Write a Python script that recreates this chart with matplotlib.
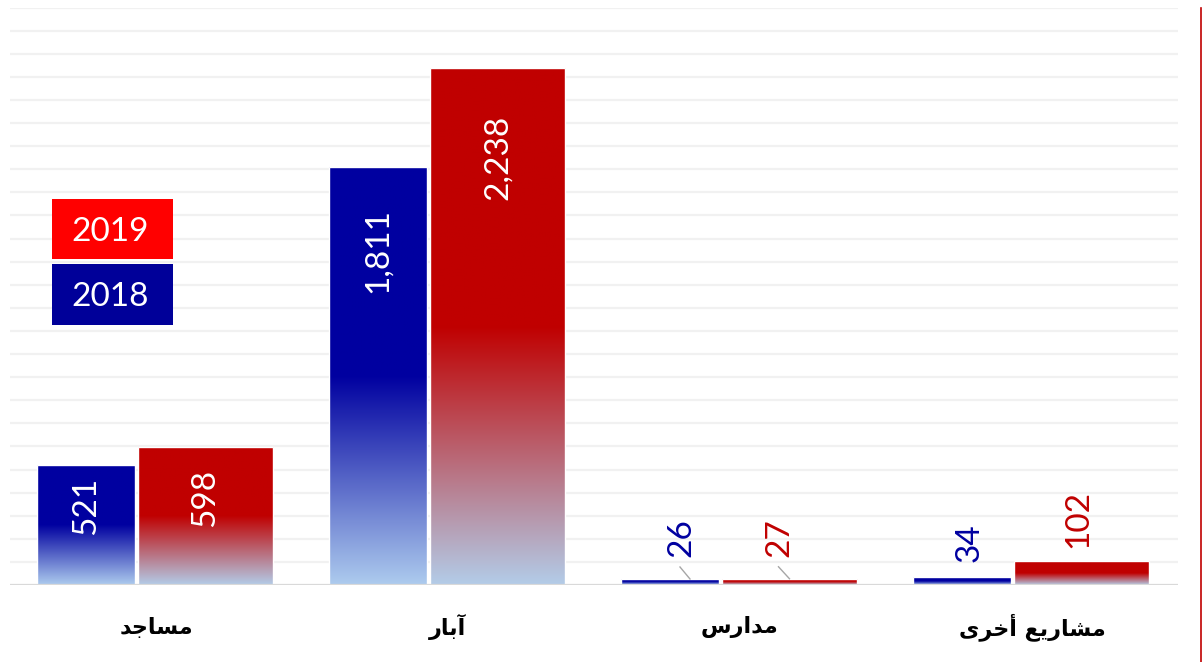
import numpy as np
import matplotlib
matplotlib.use("Agg")
import matplotlib.pyplot as plt
from matplotlib.patches import Rectangle
from matplotlib.lines import Line2D
from matplotlib.colors import to_rgb
from matplotlib.transforms import offset_copy

# ---------------- data ----------------
categories = ["مساجد", "آبار", "مدارس", "مشاريع أخرى"]
series_names = ["2018", "2019"]
values_2018 = [521, 1811, 26, 34]
values_2019 = [598, 2238, 27, 102]
value_labels_2018 = ["521", "1,811", "26", "34"]
value_labels_2019 = ["598", "2,238", "27", "102"]

# ---------------- minimal Arabic shaping (presentation forms, visual order) ----------------
FORMS = {  # char: (isolated, final, initial, medial)
    "\u0627": ("\uFE8D", "\uFE8E", None, None),
    "\u0622": ("\uFE81", "\uFE82", None, None),
    "\u0623": ("\uFE83", "\uFE84", None, None),
    "\u0628": ("\uFE8F", "\uFE90", "\uFE91", "\uFE92"),
    "\u062C": ("\uFE9D", "\uFE9E", "\uFE9F", "\uFEA0"),
    "\u062E": ("\uFEA5", "\uFEA6", "\uFEA7", "\uFEA8"),
    "\u062F": ("\uFEA9", "\uFEAA", None, None),
    "\u0631": ("\uFEAD", "\uFEAE", None, None),
    "\u0633": ("\uFEB1", "\uFEB2", "\uFEB3", "\uFEB4"),
    "\u0634": ("\uFEB5", "\uFEB6", "\uFEB7", "\uFEB8"),
    "\u0639": ("\uFEC9", "\uFECA", "\uFECB", "\uFECC"),
    "\u0645": ("\uFEE1", "\uFEE2", "\uFEE3", "\uFEE4"),
    "\u064A": ("\uFEF1", "\uFEF2", "\uFEF3", "\uFEF4"),
    "\u0649": ("\uFEEF", "\uFEF0", None, None),
}


def shape_arabic(s):
    out = []
    n = len(s)
    for i, ch in enumerate(s):
        f = FORMS.get(ch)
        if f is None:
            out.append(ch)
            continue
        prev = s[i - 1] if i > 0 else None
        nxt = s[i + 1] if i < n - 1 else None
        join_prev = prev in FORMS and FORMS[prev][2] is not None
        join_next = nxt in FORMS and f[2] is not None
        if join_prev and join_next:
            out.append(f[3])
        elif join_prev:
            out.append(f[1])
        elif join_next:
            out.append(f[2])
        else:
            out.append(f[0])
    return "".join(out)[::-1]


# ---------------- figure ----------------
W, H = 1203, 662
fig = plt.figure(figsize=(W / 100, H / 100), dpi=100)
fig.patch.set_facecolor("white")
ax = fig.add_axes([10 / W, 1 - 585 / H, 1168 / W, 577.5 / H])
ax.set_xlim(-0.5, 3.5)
ax.set_ylim(0, 2500)
for s in ax.spines.values():
    s.set_visible(False)
ax.set_xticks([])
ax.set_yticks([])

# grid
for gy in range(100, 2501, 100):
    ax.axhline(gy, color="#F1F1F1", lw=1.6, zorder=0)
ax.axhline(0, color="#D9D9D9", lw=1.6, zorder=3)

x = np.arange(len(categories))
blue_top, blue_bot = "#0000A0", "#ADCBEE"
red_top, red_bot = "#C00000", "#B3CCE8"

bars_b = ax.bar(x - 0.4075, values_2018, width=0.3355, align="edge",
                color="none", edgecolor="white", linewidth=1.0, zorder=2)
bars_r = ax.bar(x - 0.062, values_2019, width=0.463, align="edge",
                color="none", edgecolor="white", linewidth=1.0, zorder=2)


def gradient_fill(bar, top, bot):
    x0, y0 = bar.get_x(), bar.get_y()
    w, h = bar.get_width(), bar.get_height()
    t = np.linspace(0, 1, 256)  # 0 = bottom, 1 = top
    frac = np.clip(t / 0.5, 0, 1)
    c0, c1 = np.array(to_rgb(bot)), np.array(to_rgb(top))
    img = (c0[None, :] * (1 - frac[:, None]) + c1[None, :] * frac[:, None])[:, None, :]
    im = ax.imshow(img, extent=[x0, x0 + w, y0, y0 + h], origin="lower",
                   aspect="auto", zorder=1.5, interpolation="bilinear")
    im.set_clip_path(bar)


for b in bars_b:
    gradient_fill(b, blue_top, blue_bot)
for b in bars_r:
    gradient_fill(b, red_top, red_bot)
ax.set_xlim(-0.5, 3.5)
ax.set_ylim(0, 2500)

# value labels
num_font = "Lato"
lab_size = 24
# (dx, dy) pixel offsets of label centre from bar top centre
inside_off_b = [(0, -41), (0, -84), None, None]
inside_off_r = [(0, -51), (0, -89), None, None]
outside_off_b = [None, None, (11, 41), (8, 35)]
outside_off_r = [None, None, (-10, 41), (-3, 43)]
leader_b = [None, None, ((10, 12), (20, 0)), None]
leader_r = [None, None, ((-11, 12), (0, 0)), None]


def label_bars(bars, labels, inside, outside, leaders, color):
    for i, b in enumerate(bars):
        xc = b.get_x() + b.get_width() / 2
        top = b.get_height()
        if inside[i] is not None:
            dx, dy = inside[i]
            ax.annotate(labels[i], (xc, top), xytext=(dx, dy), textcoords="offset pixels",
                        rotation=90, ha="center", va="center", color="white",
                        fontsize=lab_size, family=num_font, zorder=5)
        else:
            dx, dy = outside[i]
            ax.annotate(labels[i], (xc, top), xytext=(dx, dy), textcoords="offset pixels",
                        rotation=90, ha="center", va="center", color=color,
                        fontsize=lab_size, family=num_font, zorder=5)
            if leaders[i] is not None:
                (sx, sy), (ex, ey) = leaders[i]
                tr0 = offset_copy(ax.transData, fig=fig, x=sx, y=sy, units="dots")
                tr1 = offset_copy(ax.transData, fig=fig, x=ex, y=ey, units="dots")
                p0 = tr0.transform((xc, top))
                p1 = tr1.transform((xc, top))
                fig.add_artist(Line2D([p0[0] / W, p1[0] / W], [p0[1] / H, p1[1] / H],
                                      color="#A6A6A6", lw=1.0, transform=fig.transFigure))


label_bars(bars_b, value_labels_2018, inside_off_b, outside_off_b, leader_b, "#0000A0")
label_bars(bars_r, value_labels_2019, inside_off_r, outside_off_r, leader_r, "#C00000")

# category labels
for xi, cat in zip(x, categories):
    ax.text(xi, -42 / 0.231, shape_arabic(cat), ha="center", va="center",
            fontsize=16, fontweight="bold", family="DejaVu Sans", color="black",
            clip_on=False)

# legend boxes (figure pixel coords)
legend_items = [(series_names[1], "#FF0000", 199, 259), (series_names[0], "#000099", 264, 325)]
for name, col, ytop, ybot in legend_items:
    fig.add_artist(Rectangle((52 / W, 1 - ybot / H), 121 / W, (ybot - ytop) / H,
                             facecolor=col, edgecolor="none", transform=fig.transFigure))
    fig.text(110 / W, 1 - ((ytop + ybot) / 2 + 3) / H, name, ha="center", va="center",
             color="white", fontsize=lab_size, family=num_font)

# right edge line
fig.add_artist(Line2D([1201 / W, 1201 / W], [0, 1 - 8 / H], color="#C00000", lw=1.2,
                      transform=fig.transFigure))

fig.savefig("out.png", dpi=100)
